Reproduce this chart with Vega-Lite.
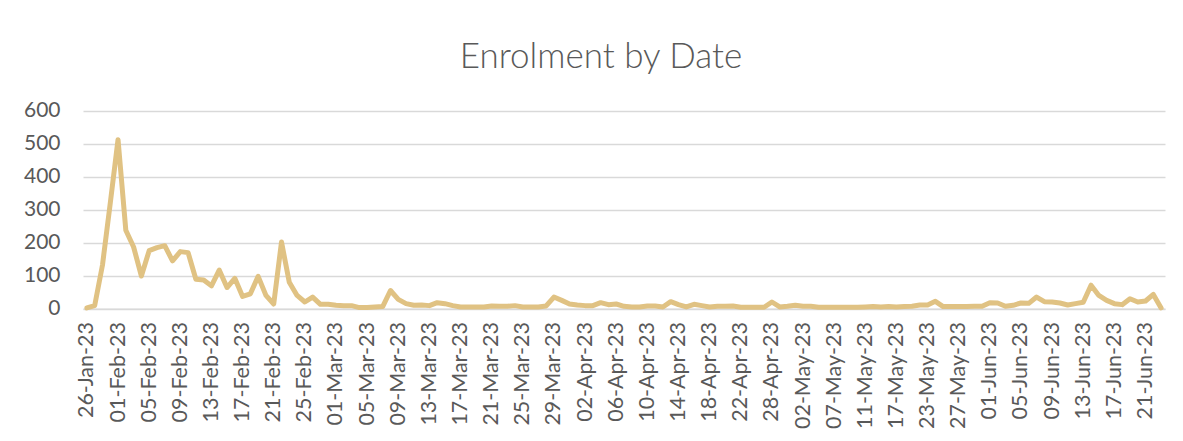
{
  "$schema": "https://vega.github.io/schema/vega-lite/v6.json",
  "autosize": {"type": "none"},
  "padding": {"left": 83, "top": 111, "right": 18, "bottom": 132},
  "width": 1082,
  "height": 197.6,
  "background": "#ffffff",
  "config": {
    "font": "Lato",
    "view": {"stroke": null},
    "title": {"font": "Lato", "color": "#595959"}
  },
  "title": {
    "text": "Enrolment by Date",
    "fontSize": 35,
    "fontWeight": 300,
    "color": "#595959",
    "anchor": "middle",
    "frame": "group",
    "baseline": "alphabetic",
    "offset": -3,
    "dx": -23
  },
  "data": {
    "values": [
      {"date": "26-Jan-23", "enrolment": 2},
      {"date": "27-Jan-23", "enrolment": 9},
      {"date": "30-Jan-23", "enrolment": 132},
      {"date": "31-Jan-23", "enrolment": 320},
      {"date": "01-Feb-23", "enrolment": 513},
      {"date": "02-Feb-23", "enrolment": 238},
      {"date": "03-Feb-23", "enrolment": 187},
      {"date": "04-Feb-23", "enrolment": 99},
      {"date": "05-Feb-23", "enrolment": 176},
      {"date": "06-Feb-23", "enrolment": 185},
      {"date": "07-Feb-23", "enrolment": 191},
      {"date": "08-Feb-23", "enrolment": 145},
      {"date": "09-Feb-23", "enrolment": 173},
      {"date": "10-Feb-23", "enrolment": 170},
      {"date": "11-Feb-23", "enrolment": 89},
      {"date": "12-Feb-23", "enrolment": 87},
      {"date": "13-Feb-23", "enrolment": 69},
      {"date": "14-Feb-23", "enrolment": 117},
      {"date": "15-Feb-23", "enrolment": 64},
      {"date": "16-Feb-23", "enrolment": 92},
      {"date": "17-Feb-23", "enrolment": 37},
      {"date": "18-Feb-23", "enrolment": 45},
      {"date": "19-Feb-23", "enrolment": 98},
      {"date": "20-Feb-23", "enrolment": 40},
      {"date": "21-Feb-23", "enrolment": 14},
      {"date": "22-Feb-23", "enrolment": 202},
      {"date": "23-Feb-23", "enrolment": 80},
      {"date": "24-Feb-23", "enrolment": 40},
      {"date": "25-Feb-23", "enrolment": 20},
      {"date": "26-Feb-23", "enrolment": 35},
      {"date": "27-Feb-23", "enrolment": 13},
      {"date": "28-Feb-23", "enrolment": 13},
      {"date": "01-Mar-23", "enrolment": 10},
      {"date": "02-Mar-23", "enrolment": 9},
      {"date": "03-Mar-23", "enrolment": 9},
      {"date": "04-Mar-23", "enrolment": 3},
      {"date": "05-Mar-23", "enrolment": 3},
      {"date": "06-Mar-23", "enrolment": 5},
      {"date": "07-Mar-23", "enrolment": 6},
      {"date": "08-Mar-23", "enrolment": 55},
      {"date": "09-Mar-23", "enrolment": 28},
      {"date": "10-Mar-23", "enrolment": 15},
      {"date": "11-Mar-23", "enrolment": 10},
      {"date": "12-Mar-23", "enrolment": 11},
      {"date": "13-Mar-23", "enrolment": 9},
      {"date": "14-Mar-23", "enrolment": 18},
      {"date": "15-Mar-23", "enrolment": 15},
      {"date": "16-Mar-23", "enrolment": 9},
      {"date": "17-Mar-23", "enrolment": 5},
      {"date": "18-Mar-23", "enrolment": 5},
      {"date": "19-Mar-23", "enrolment": 5},
      {"date": "20-Mar-23", "enrolment": 5},
      {"date": "21-Mar-23", "enrolment": 8},
      {"date": "22-Mar-23", "enrolment": 7},
      {"date": "23-Mar-23", "enrolment": 7},
      {"date": "24-Mar-23", "enrolment": 9},
      {"date": "25-Mar-23", "enrolment": 5},
      {"date": "26-Mar-23", "enrolment": 5},
      {"date": "27-Mar-23", "enrolment": 5},
      {"date": "28-Mar-23", "enrolment": 8},
      {"date": "29-Mar-23", "enrolment": 35},
      {"date": "30-Mar-23", "enrolment": 25},
      {"date": "31-Mar-23", "enrolment": 14},
      {"date": "01-Apr-23", "enrolment": 11},
      {"date": "02-Apr-23", "enrolment": 9},
      {"date": "03-Apr-23", "enrolment": 9},
      {"date": "04-Apr-23", "enrolment": 18},
      {"date": "05-Apr-23", "enrolment": 12},
      {"date": "06-Apr-23", "enrolment": 14},
      {"date": "07-Apr-23", "enrolment": 7},
      {"date": "08-Apr-23", "enrolment": 5},
      {"date": "09-Apr-23", "enrolment": 5},
      {"date": "10-Apr-23", "enrolment": 8},
      {"date": "11-Apr-23", "enrolment": 8},
      {"date": "12-Apr-23", "enrolment": 5},
      {"date": "13-Apr-23", "enrolment": 21},
      {"date": "14-Apr-23", "enrolment": 12},
      {"date": "15-Apr-23", "enrolment": 5},
      {"date": "16-Apr-23", "enrolment": 13},
      {"date": "17-Apr-23", "enrolment": 9},
      {"date": "18-Apr-23", "enrolment": 5},
      {"date": "19-Apr-23", "enrolment": 7},
      {"date": "20-Apr-23", "enrolment": 7},
      {"date": "21-Apr-23", "enrolment": 8},
      {"date": "22-Apr-23", "enrolment": 4},
      {"date": "24-Apr-23", "enrolment": 4},
      {"date": "25-Apr-23", "enrolment": 4},
      {"date": "26-Apr-23", "enrolment": 4},
      {"date": "28-Apr-23", "enrolment": 20},
      {"date": "29-Apr-23", "enrolment": 5},
      {"date": "30-Apr-23", "enrolment": 7},
      {"date": "01-May-23", "enrolment": 10},
      {"date": "02-May-23", "enrolment": 7},
      {"date": "03-May-23", "enrolment": 7},
      {"date": "04-May-23", "enrolment": 4},
      {"date": "05-May-23", "enrolment": 4},
      {"date": "07-May-23", "enrolment": 4},
      {"date": "08-May-23", "enrolment": 4},
      {"date": "09-May-23", "enrolment": 4},
      {"date": "10-May-23", "enrolment": 4},
      {"date": "11-May-23", "enrolment": 5},
      {"date": "12-May-23", "enrolment": 6},
      {"date": "15-May-23", "enrolment": 5},
      {"date": "16-May-23", "enrolment": 6},
      {"date": "17-May-23", "enrolment": 5},
      {"date": "18-May-23", "enrolment": 6},
      {"date": "19-May-23", "enrolment": 7},
      {"date": "22-May-23", "enrolment": 11},
      {"date": "23-May-23", "enrolment": 11},
      {"date": "24-May-23", "enrolment": 22},
      {"date": "25-May-23", "enrolment": 6},
      {"date": "26-May-23", "enrolment": 6},
      {"date": "27-May-23", "enrolment": 6},
      {"date": "29-May-23", "enrolment": 6},
      {"date": "30-May-23", "enrolment": 7},
      {"date": "31-May-23", "enrolment": 7},
      {"date": "01-Jun-23", "enrolment": 18},
      {"date": "02-Jun-23", "enrolment": 17},
      {"date": "03-Jun-23", "enrolment": 7},
      {"date": "04-Jun-23", "enrolment": 10},
      {"date": "05-Jun-23", "enrolment": 17},
      {"date": "06-Jun-23", "enrolment": 16},
      {"date": "07-Jun-23", "enrolment": 35},
      {"date": "08-Jun-23", "enrolment": 21},
      {"date": "09-Jun-23", "enrolment": 20},
      {"date": "10-Jun-23", "enrolment": 17},
      {"date": "11-Jun-23", "enrolment": 11},
      {"date": "12-Jun-23", "enrolment": 15},
      {"date": "13-Jun-23", "enrolment": 19},
      {"date": "14-Jun-23", "enrolment": 71},
      {"date": "15-Jun-23", "enrolment": 40},
      {"date": "16-Jun-23", "enrolment": 25},
      {"date": "17-Jun-23", "enrolment": 15},
      {"date": "18-Jun-23", "enrolment": 12},
      {"date": "19-Jun-23", "enrolment": 30},
      {"date": "20-Jun-23", "enrolment": 20},
      {"date": "21-Jun-23", "enrolment": 23},
      {"date": "22-Jun-23", "enrolment": 43},
      {"date": "23-Jun-23", "enrolment": 2}
    ]
  },
  "mark": {
    "type": "line",
    "color": "#E0C283",
    "strokeWidth": 5,
    "strokeCap": "round",
    "strokeJoin": "round"
  },
  "encoding": {
    "x": {
      "field": "date",
      "type": "ordinal",
      "sort": null,
      "scale": {"type": "point", "padding": 0.5},
      "axis": {
        "title": null,
        "values": ["26-Jan-23", "01-Feb-23", "05-Feb-23", "09-Feb-23", "13-Feb-23", "17-Feb-23", "21-Feb-23", "25-Feb-23", "01-Mar-23", "05-Mar-23", "09-Mar-23", "13-Mar-23", "17-Mar-23", "21-Mar-23", "25-Mar-23", "29-Mar-23", "02-Apr-23", "06-Apr-23", "10-Apr-23", "14-Apr-23", "18-Apr-23", "22-Apr-23", "28-Apr-23", "02-May-23", "07-May-23", "11-May-23", "17-May-23", "23-May-23", "27-May-23", "01-Jun-23", "05-Jun-23", "09-Jun-23", "13-Jun-23", "17-Jun-23", "21-Jun-23"],
        "labelAngle": 270,
        "labelFont": "Lato",
        "labelFontSize": 21.5,
        "labelColor": "#595959",
        "labelPadding": 13,
        "labelOverlap": false,
        "ticks": false,
        "domain": true,
        "domainColor": "#D9D9D9",
        "domainWidth": 1.3,
        "grid": false
      }
    },
    "y": {
      "field": "enrolment",
      "type": "quantitative",
      "scale": {"domain": [0, 600], "nice": false},
      "axis": {
        "title": null,
        "values": [0, 100, 200, 300, 400, 500, 600],
        "labelFont": "Lato",
        "labelFontSize": 21,
        "labelColor": "#595959",
        "labelPadding": 23,
        "ticks": false,
        "domain": false,
        "grid": true,
        "gridColor": "#D9D9D9",
        "gridWidth": 1.3
      }
    }
  }
}
